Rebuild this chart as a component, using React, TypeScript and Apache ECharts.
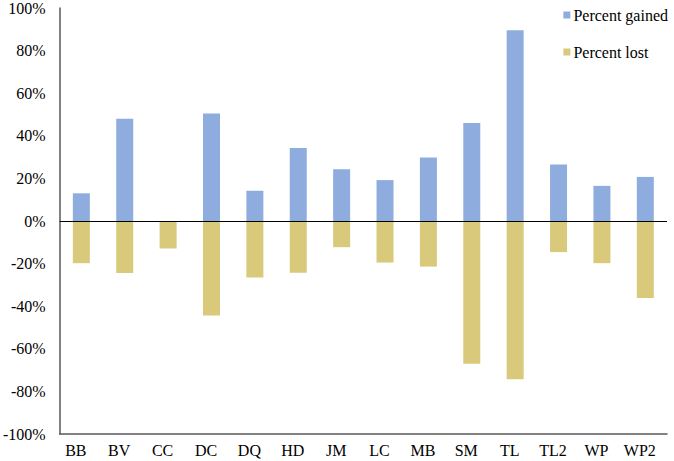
import React, { useEffect, useRef } from "react";
import * as echarts from "echarts";

const categories = ["BB", "BV", "CC", "DC", "DQ", "HD", "JM", "LC", "MB", "SM", "TL", "TL2", "WP", "WP2"];
const percentGained = [13, 48, 0, 50.5, 14.2, 34.3, 24.3, 19.2, 29.8, 46, 89.5, 26.5, 16.5, 20.7];
const percentLost = [-19.8, -24.4, -12.9, -44.4, -26.5, -24.3, -12.3, -19.5, -21.4, -67, -74.3, -14.6, -19.8, -36.1];
const yTicks = { min: -100, max: 100, interval: 20 };

const FONT = "Liberation Serif";

export default function App() {
  const ref = useRef<HTMLDivElement>(null);
  useEffect(() => {
    if (!ref.current) return;
    const chart = echarts.init(ref.current, undefined, { renderer: "svg" });
    chart.setOption({
      animation: false,
      textStyle: { fontFamily: FONT },
      grid: { left: 58, right: 7, top: 7, bottom: 27, containLabel: false },
      legend: {
        orient: "vertical",
        right: 6,
        top: 7,
        padding: 0,
        itemGap: 21,
        itemWidth: 7,
        itemHeight: 7,
        icon: "rect",
        textStyle: { fontFamily: FONT, fontSize: 16, color: "#000", padding: [0, 0, 0, -2] },
        data: ["Percent gained", "Percent lost"],
      },
      xAxis: {
        type: "category",
        data: categories,
        axisLine: { onZero: false, lineStyle: { color: "#595959", width: 1.5 } },
        axisTick: { show: false },
        axisLabel: { fontFamily: FONT, fontSize: 16, color: "#000", margin: 8, padding: [0, 11, 0, 0] },
      },
      yAxis: {
        type: "value",
        min: yTicks.min,
        max: yTicks.max,
        interval: yTicks.interval,
        axisLine: { show: true, lineStyle: { color: "#595959", width: 1.5 } },
        axisTick: { show: false },
        splitLine: { show: false },
        axisLabel: { formatter: "{value}%", fontFamily: FONT, fontSize: 16, color: "#000", margin: 14 },
      },
      series: [
        {
          name: "Percent gained",
          type: "bar",
          data: percentGained,
          barWidth: 17,
          barGap: "-100%",
          itemStyle: { color: "#8FACDE" },
          markLine: {
            silent: true,
            symbol: "none",
            label: { show: false },
            lineStyle: { color: "#000", width: 1, type: "solid" },
            data: [{ yAxis: 0 }],
          },
        },
        {
          name: "Percent lost",
          type: "bar",
          data: percentLost,
          barWidth: 17,
          barGap: "-100%",
          itemStyle: { color: "#D8C97B" },
        },
      ],
    });
    return () => chart.dispose();
  }, []);
  return <div ref={ref} style={{ width: 674, height: 461, position: "absolute", left: 0, top: 0, background: "#fff" }} />;
}
